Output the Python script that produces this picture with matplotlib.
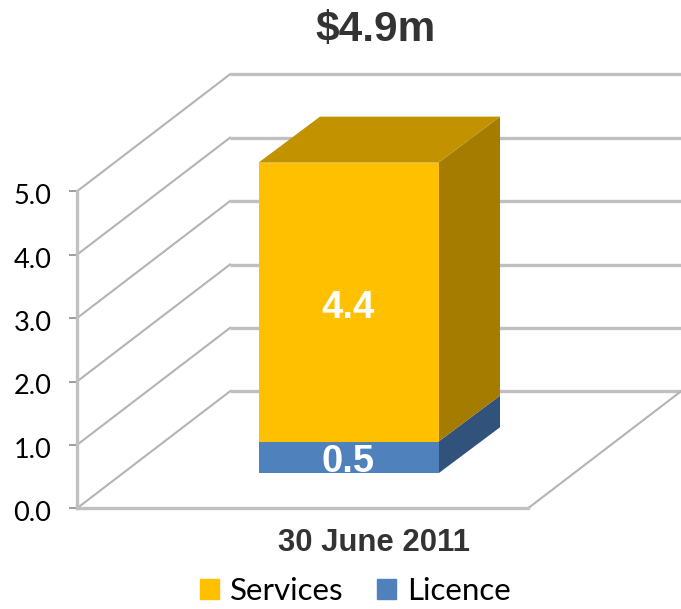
import matplotlib
matplotlib.use("Agg")
import matplotlib.pyplot as plt
from matplotlib.patches import Patch, Polygon
from matplotlib.transforms import ScaledTranslation

categories = ["30 June 2011"]
series_names = ["Services", "Licence"]
licence = [0.5]
services = [4.4]
total_label = "$4.9m"
y_ticks = [0.0, 1.0, 2.0, 3.0, 4.0, 5.0]

W, H = 681, 609
PX_PER_UNIT = 63.4
ZERO_PY = 508.3  # pixel row of value 0, from the top

# 3d look: wall/floor depth and bar depth in (pixels, value units)
FLOOR_X0, FLOOR_X1 = 77, 528
WALL_DX, WALL_DY = 153, 117 / PX_PER_UNIT
BAR_X0, BAR_X1 = 258.5, 438.5
BAR_DX, BAR_DY = 61.5, 46 / PX_PER_UNIT
BAR_BASE = 35 / PX_PER_UNIT

GRID = "#c0c0c0"
GRID_DIAG = "#b4b4b4"
YELLOW, YELLOW_SIDE, YELLOW_TOP = "#FFC000", "#A67C00", "#C39200"
BLUE, BLUE_SIDE = "#4F81BD", "#30527B"

fig = plt.figure(figsize=(W / 100, H / 100), dpi=100)
ax = fig.add_axes([0, 0, 1, 1])
ax.set_xlim(0, W)
ax.set_ylim((ZERO_PY - H) / PX_PER_UNIT, ZERO_PY / PX_PER_UNIT)

# gridlines running along the side wall and the back wall
for v in y_ticks:
    ax.plot([FLOOR_X0, FLOOR_X0 + WALL_DX], [v, v + WALL_DY], color=GRID_DIAG, lw=1.5, zorder=1)
    ax.plot([FLOOR_X0 + WALL_DX, FLOOR_X1 + WALL_DX], [v + WALL_DY, v + WALL_DY],
            color=GRID, lw=2.4, zorder=1, solid_capstyle="butt")
ax.plot([FLOOR_X1, FLOOR_X1 + WALL_DX], [0, WALL_DY], color=GRID_DIAG, lw=1.5, zorder=1)

# stacked bar, front faces
bar_w = BAR_X1 - BAR_X0
bar_c = (BAR_X0 + BAR_X1) / 2
low = BAR_BASE
mid = low + licence[0]
top = mid + services[0]
ax.bar([bar_c], licence, width=bar_w, bottom=low, color=BLUE, zorder=3)
ax.bar([bar_c], services, width=bar_w, bottom=mid, color=YELLOW, zorder=3)


def side_face(y0, y1, color):
    pts = [(BAR_X1, y0), (BAR_X1 + BAR_DX, y0 + BAR_DY), (BAR_X1 + BAR_DX, y1 + BAR_DY), (BAR_X1, y1)]
    ax.add_patch(Polygon(pts, closed=True, facecolor=color, edgecolor="none", zorder=2))


side_face(low, mid, BLUE_SIDE)
side_face(mid, top, YELLOW_SIDE)
ax.add_patch(Polygon([(BAR_X0, top), (BAR_X1, top), (BAR_X1 + BAR_DX, top + BAR_DY), (BAR_X0 + BAR_DX, top + BAR_DY)],
                     closed=True, facecolor=YELLOW_TOP, edgecolor="none", zorder=2))

# value labels
ax.text(bar_c, low + licence[0] / 2 - 0.07, "%.1f" % licence[0], color="white", fontsize=27.5,
        fontweight="bold", family="Liberation Sans", ha="center", va="center", zorder=4)
ax.text(bar_c, mid + services[0] / 2 - 0.09, "%.1f" % services[0], color="white", fontsize=27.5,
        fontweight="bold", family="Liberation Sans", ha="center", va="center", zorder=4)

ax.text(376, (ZERO_PY - 30) / PX_PER_UNIT, total_label, color="#333333", fontsize=30.5,
        fontweight="bold", family="Liberation Sans", ha="center", va="center")

# axes
for s in ["top", "right"]:
    ax.spines[s].set_visible(False)
ax.spines["left"].set_position(("data", FLOOR_X0))
ax.spines["left"].set_bounds(0, 5)
ax.spines["left"].set_linewidth(2.4)
ax.spines["left"].set_color(GRID)
ax.spines["bottom"].set_position(("data", 0))
ax.spines["bottom"].set_bounds(FLOOR_X0, FLOOR_X1)
ax.spines["bottom"].set_linewidth(2.4)
ax.spines["bottom"].set_color(GRID)
ax.patch.set_alpha(0)

ax.set_yticks(y_ticks)
ax.set_yticklabels(["%.1f" % v for v in y_ticks], fontsize=19.5, family="Lato", color="black")
ax.tick_params(axis="y", length=5.5, width=1.2, color="#8c8c8c", pad=13)
# labels sit a little under their ticks
shift = ScaledTranslation(0, -3 / 100, fig.dpi_scale_trans)
for lbl in ax.get_yticklabels():
    lbl.set_transform(lbl.get_transform() + shift)
ax.set_xticks([374])
ax.set_xticklabels(categories, fontsize=22.4, fontweight="bold", family="Liberation Sans", color="#333333")
ax.tick_params(axis="x", length=0, pad=14)

handles = [Patch(color=YELLOW, label=series_names[0]), Patch(color=BLUE, label=series_names[1])]
ax.legend(handles=handles, loc="center", bbox_to_anchor=(355.5 / W, 1 - 591 / H), ncol=2, frameon=False,
          prop={"family": "Lato", "size": 22.5}, handlelength=0.62, handleheight=0.62,
          handletextpad=0.36, columnspacing=1.05, borderpad=0, borderaxespad=0)

fig.savefig("out.png", dpi=100)
